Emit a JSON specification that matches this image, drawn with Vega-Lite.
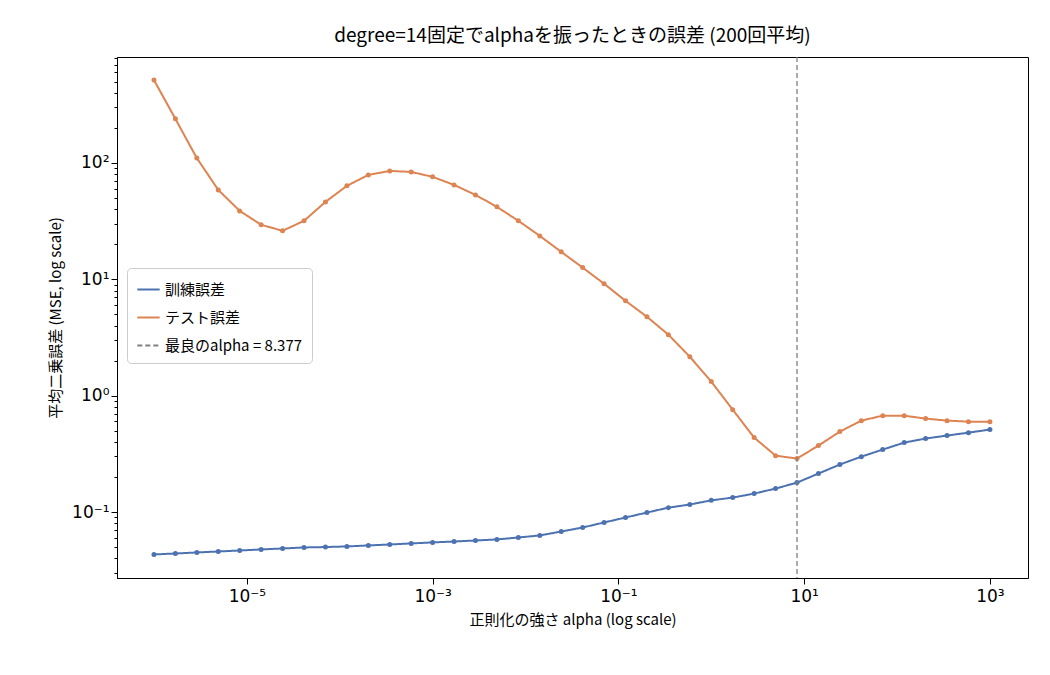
{
  "$schema": "https://vega.github.io/schema/vega-lite/v6.json",
  "width": 911,
  "height": 521,
  "autosize": "none",
  "padding": {"left": 117, "top": 57, "right": 22, "bottom": 97},
  "background": "white",
  "config": {
    "font": "Noto Sans CJK JP",
    "view": {"stroke": "black", "strokeWidth": 1},
    "axis": {"grid": false, "domainColor": "black", "tickColor": "black", "labelColor": "black", "labelFontSize": 17, "titleFontSize": 15, "titleFontWeight": "normal", "titleColor": "black", "labelFont": "DejaVu Sans"}
  },
  "title": {"text": "degree=14固定でalphaを振ったときの誤差 (200回平均)", "fontSize": 19, "fontWeight": "normal", "offset": 10, "color": "black"},
  "datasets": {
    "err": [
      {"alpha": 1e-6, "訓練誤差": 0.0432, "テスト誤差": 515},
      {"alpha": 1.701e-6, "訓練誤差": 0.0440, "テスト誤差": 239},
      {"alpha": 2.894e-6, "訓練誤差": 0.0449, "テスト誤差": 110},
      {"alpha": 4.924e-6, "訓練誤差": 0.0458, "テスト誤差": 58.6},
      {"alpha": 8.377e-6, "訓練誤差": 0.0467, "テスト誤差": 38.7},
      {"alpha": 1.425e-5, "訓練誤差": 0.0477, "テスト誤差": 29.4},
      {"alpha": 2.424e-5, "訓練誤差": 0.0486, "テスト誤差": 26.1},
      {"alpha": 4.125e-5, "訓練誤差": 0.0496, "テスト誤差": 31.8},
      {"alpha": 7.017e-5, "訓練誤差": 0.0500, "テスト誤差": 46.2},
      {"alpha": 1.194e-4, "訓練誤差": 0.0506, "テスト誤差": 63.5},
      {"alpha": 2.031e-4, "訓練誤差": 0.0516, "テスト誤差": 78.9},
      {"alpha": 3.455e-4, "訓練誤差": 0.0526, "テスト誤差": 85.3},
      {"alpha": 5.878e-4, "訓練誤差": 0.0537, "テスト誤差": 83.7},
      {"alpha": 1e-3, "訓練誤差": 0.0548, "テスト誤差": 75.9},
      {"alpha": 1.701e-3, "訓練誤差": 0.0558, "テスト誤差": 64.7},
      {"alpha": 2.894e-3, "訓練誤差": 0.0569, "テスト誤差": 53.1},
      {"alpha": 4.924e-3, "訓練誤差": 0.0581, "テスト誤差": 41.9},
      {"alpha": 8.377e-3, "訓練誤差": 0.0604, "テスト誤差": 31.8},
      {"alpha": 1.425e-2, "訓練誤差": 0.0629, "テスト誤差": 23.6},
      {"alpha": 2.424e-2, "訓練誤差": 0.0680, "テスト誤差": 17.2},
      {"alpha": 4.125e-2, "訓練誤差": 0.0736, "テスト誤差": 12.6},
      {"alpha": 7.017e-2, "訓練誤差": 0.0813, "テスト誤差": 9.15},
      {"alpha": 0.1194, "訓練誤差": 0.0897, "テスト誤差": 6.53},
      {"alpha": 0.2031, "訓練誤差": 0.0990, "テスト誤差": 4.76},
      {"alpha": 0.3455, "訓練誤差": 0.109, "テスト誤差": 3.34},
      {"alpha": 0.5878, "訓練誤差": 0.116, "テスト誤差": 2.16},
      {"alpha": 1.0, "訓練誤差": 0.126, "テスト誤差": 1.32},
      {"alpha": 1.701, "訓練誤差": 0.133, "テスト誤差": 0.758},
      {"alpha": 2.894, "訓練誤差": 0.144, "テスト誤差": 0.436},
      {"alpha": 4.924, "訓練誤差": 0.159, "テスト誤差": 0.305},
      {"alpha": 8.377, "訓練誤差": 0.179, "テスト誤差": 0.288},
      {"alpha": 14.25, "訓練誤差": 0.214, "テスト誤差": 0.372},
      {"alpha": 24.24, "訓練誤差": 0.256, "テスト誤差": 0.491},
      {"alpha": 41.25, "訓練誤差": 0.299, "テスト誤差": 0.610},
      {"alpha": 70.17, "訓練誤差": 0.344, "テスト誤差": 0.673},
      {"alpha": 119.4, "訓練誤差": 0.395, "テスト誤差": 0.673},
      {"alpha": 203.1, "訓練誤差": 0.428, "テスト誤差": 0.635},
      {"alpha": 345.5, "訓練誤差": 0.454, "テスト誤差": 0.610},
      {"alpha": 587.8, "訓練誤差": 0.481, "テスト誤差": 0.598},
      {"alpha": 1000, "訓練誤差": 0.511, "テスト誤差": 0.598}
    ],
    "best": [{"alpha": 8.377, "series": "最良のalpha = 8.377"}]
  },
  "encoding": {
    "x": {
      "field": "alpha", "type": "quantitative",
      "scale": {"type": "log", "domain": [4.0e-7, 2570], "nice": false},
      "axis": {"title": "正則化の強さ alpha (log scale)", "values": [1e-5, 1e-3, 0.1, 10, 1000], "tickSize": 6, "labelPadding": 4, "titlePadding": 8,
        "labelExpr": "datum.value < 1e-4 ? '10⁻⁵' : datum.value < 0.01 ? '10⁻³' : datum.value < 1 ? '10⁻¹' : datum.value < 100 ? '10¹' : '10³'"}
    },
    "color": {
      "field": "series", "type": "nominal", "title": null,
      "scale": {"domain": ["訓練誤差", "テスト誤差", "最良のalpha = 8.377"], "range": ["#4c72b0", "#dd8452", "#808080"]},
      "legend": {"orient": "none", "legendX": 10, "legendY": 211, "symbolType": "stroke", "symbolSize": 500, "symbolStrokeWidth": 2, "labelFontSize": 15, "labelFont": "Noto Sans CJK JP", "fillColor": "white", "strokeColor": "#cccccc", "padding": 9, "cornerRadius": 4, "rowPadding": 7, "labelLimit": 300}
    },
    "strokeDash": {
      "field": "series", "type": "nominal", "title": null,
      "scale": {"domain": ["訓練誤差", "テスト誤差", "最良のalpha = 8.377"], "range": [[1, 0], [1, 0], [5, 3]]}
    }
  },
  "layer": [
    {
      "data": {"name": "err"},
      "transform": [{"fold": ["訓練誤差", "テスト誤差"], "as": ["series", "mse"]}],
      "mark": {"type": "line", "strokeWidth": 2, "point": {"size": 25, "filled": true, "opacity": 1}},
      "encoding": {
        "y": {
          "field": "mse", "type": "quantitative",
          "scale": {"type": "log", "domain": [0.0271, 813], "nice": false},
          "axis": {"title": "平均二乗誤差 (MSE, log scale)", "titlePadding": 8,
            "values": [0.03, 0.04, 0.05, 0.06, 0.07, 0.08, 0.09, 0.1, 0.2, 0.3, 0.4, 0.5, 0.6, 0.7, 0.8, 0.9, 1, 2, 3, 4, 5, 6, 7, 8, 9, 10, 20, 30, 40, 50, 60, 70, 80, 90, 100, 200, 300, 400, 500, 600, 700, 800],
            "labelExpr": "datum.value == 0.1 ? '10⁻¹' : datum.value == 1 ? '10⁰' : datum.value == 10 ? '10¹' : datum.value == 100 ? '10²' : ''",
            "tickSize": {"condition": {"test": "datum.value == 0.1 || datum.value == 1 || datum.value == 10 || datum.value == 100", "value": 6}, "value": 3}}
        }
      }
    },
    {
      "data": {"name": "best"},
      "mark": {"type": "rule", "strokeWidth": 1.3},
      "encoding": {}
    }
  ]
}
